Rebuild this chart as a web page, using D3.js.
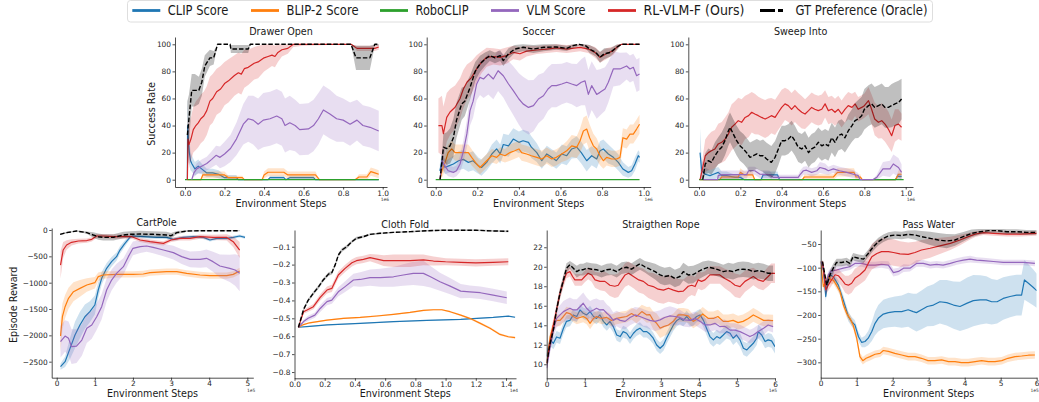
<!DOCTYPE html>
<html><head><meta charset="utf-8">
<script src="https://cdn.jsdelivr.net/npm/d3@7"></script>
<style>
body{margin:0;background:#fff;}
svg{font-family:"DejaVu Sans",sans-serif;}
</style></head><body>
<svg id="chart" width="1039" height="402"></svg>
<script>
// ---- legend ----
const seriesNames = ["CLIP Score","BLIP-2 Score","RoboCLIP","VLM Score","RL-VLM-F (Ours)","GT Preference (Oracle)"];
const seriesColors = ["#1f77b4","#ff7f0e","#2ca02c","#9467bd","#d62728","#000000"];

// ---- tick labels ----
const successTicksX = [0,0.2,0.4,0.6,0.8,1.0];
const successTicksY = [0,20,40,60,80,100];
const cartTicksX = [0,1,2,3,4,5];
const cartTicksY = [0,-500,-1000,-1500,-2000,-2500];
const clothTicksX = [0,0.2,0.4,0.6,0.8,1.0,1.2,1.4];
const clothTicksY = [-0.1,-0.2,-0.3,-0.4,-0.5,-0.6,-0.7,-0.8];
const ropeTicksX = [0,1,2,3,4,5,6];
const ropeTicksY = [10,12,14,16,18,20,22];
const waterTicksX = [0,1,2,3,4,5,6];
const waterTicksY = [-50,-100,-150,-200,-250,-300];

// ---- series: [step, mean, spread] ----
// Drawer Open (steps x1e6, success rate %)
const drawerClip = [[0.012,0,0],[0.013,40,20],[0.018,28,15],[0.022,20,10],[0.028,14,7],[0.034,12,6],[0.05,8,5],[0.067,10,5],[0.084,8,4],[0.11,5,3],[0.14,5,3],[0.17,4,3],[0.2,1.5,2],[0.26,1.5,2],[0.27,0,0],[0.42,0,0],[0.43,1.5,1.5],[0.5,1.5,1.5],[0.51,0,0],[0.53,1.5,1.5],[0.65,1.5,1.5],[0.66,0,0],[0.98,0,0]];
const drawerBlip = [[0.012,0,0],[0.08,0,0],[0.09,3.5,2.5],[0.2,3.5,2.5],[0.22,1.5,1.5],[0.29,1.5,1.5],[0.3,0,0],[0.39,0,0],[0.4,3.5,2.5],[0.42,5.5,3],[0.5,5.5,3],[0.52,3.5,2.5],[0.66,3.5,2.5],[0.68,0,0],[0.86,0,0],[0.88,2,2],[0.92,2,2],[0.94,6,3],[0.96,5,3],[0.98,4,3]];
const drawerRobo = [[0,0,0],[0.98,0,0]];
const drawerVlm = [[0.034,0,0],[0.045,5,3],[0.059,8,4],[0.084,10,5],[0.11,12,5],[0.135,15,6],[0.157,18,7],[0.177,16.5,8],[0.2,19,9],[0.23,23,10],[0.26,30,12],[0.295,41,15],[0.32,45,17],[0.345,44,18],[0.37,41,19],[0.396,44,20],[0.43,45,20],[0.464,47,20],[0.49,45,20],[0.506,40,20],[0.53,42,20],[0.557,40,19],[0.58,37,19],[0.624,37.5,19],[0.65,40,19],[0.675,45,19],[0.7,51.5,18],[0.733,48.5,18],[0.767,45,17],[0.8,44,16],[0.835,41,16],[0.87,44,15],[0.9,40,15],[0.936,38.7,15],[0.98,36,15]];
const drawerRl = [[0.012,0,0],[0.015,30,15],[0.02,26,15],[0.03,30,16],[0.042,37,17],[0.055,40,18],[0.067,42,18],[0.08,45,18],[0.095,47,18],[0.11,51,18],[0.126,58,18],[0.14,60,18],[0.16,65,17],[0.18,67,17],[0.2,71,16],[0.22,73,16],[0.25,77,15],[0.27,79,15],[0.285,78,15],[0.3,82,14],[0.32,83,13],[0.35,86,12],[0.37,87,12],[0.4,90,10],[0.42,91,9],[0.44,92,8],[0.455,91,8],[0.47,94,7],[0.49,96,5],[0.52,97,4],[0.548,100,2],[0.6,100,1],[0.84,100,0],[0.87,97,2],[0.96,97,2],[0.98,98,2]];
const drawerGt = [[0.012,33,25],[0.02,45,18],[0.034,66,12],[0.05,66,12],[0.07,66,10],[0.085,72,10],[0.1,84,8],[0.126,90,6],[0.145,90,5],[0.165,100,0],[0.228,100,0],[0.232,96.5,3],[0.32,96.5,3],[0.33,100,0],[0.84,100,0],[0.865,90,9],[0.935,90,9],[0.96,100,1],[0.98,100,1]];

// Soccer
const soccerClip = [[0.02,6.6,5],[0.03,14,6],[0.045,9,5],[0.06,10,5],[0.085,11.6,6],[0.11,14,7],[0.133,15,7],[0.157,12.8,7],[0.18,14,7],[0.205,10.3,6],[0.22,9,6],[0.245,12.8,6],[0.27,19,7],[0.293,22.7,7],[0.31,19,7],[0.325,26,8],[0.35,25,8],[0.373,30,8],[0.4,27.6,8],[0.42,28.8,8],[0.446,27.6,8],[0.46,24,8],[0.486,20,7],[0.51,14,6],[0.534,19,6],[0.558,16.5,6],[0.58,14,6],[0.606,19,7],[0.63,17.7,7],[0.654,22.7,7],[0.678,24,8],[0.7,20,8],[0.726,14,8],[0.75,17.7,7],[0.774,15.3,7],[0.79,21.4,7],[0.806,22.7,7],[0.83,19,7],[0.854,16.5,6],[0.878,12.8,6],[0.9,7.9,5],[0.926,5.4,4],[0.942,6.6,4],[0.958,11.6,5],[0.974,17.7,4],[0.98,16.5,4]];
const soccerBlip = [[0.02,0,0],[0.03,6.6,5],[0.045,12.8,6],[0.06,20,6],[0.077,22.7,6],[0.093,20,6],[0.117,20,6],[0.14,20,6],[0.157,20,6],[0.173,16.5,6],[0.197,11.6,5],[0.213,9,5],[0.23,11.6,5],[0.245,14,5],[0.27,17.7,5],[0.293,16.5,5],[0.31,19,5],[0.333,17.7,5],[0.357,20,6],[0.38,21.4,6],[0.4,22.7,6],[0.413,20,6],[0.437,19,6],[0.46,17.7,6],[0.486,16.5,6],[0.51,15.3,6],[0.534,17.7,6],[0.558,15.3,6],[0.58,16.5,6],[0.606,19,6],[0.63,21.4,7],[0.654,25,8],[0.678,24,8],[0.694,28.8,9],[0.71,36,10],[0.726,37.4,10],[0.74,31,10],[0.758,25,9],[0.774,22.7,8],[0.79,17.7,7],[0.806,14,6],[0.822,16.5,6],[0.846,15.3,6],[0.87,15.3,6],[0.886,16.5,6],[0.9,31,7],[0.918,30,7],[0.934,33.7,7],[0.95,33.7,7],[0.966,37.4,7],[0.98,41,7]];
const soccerRobo = [[0,0,0],[0.98,0,0]];
const soccerVlm = [[0.021,0,0],[0.03,14,5],[0.045,10,5],[0.06,6.6,4],[0.085,5.4,4],[0.1,6.6,4],[0.117,11.6,6],[0.133,21,8],[0.15,34,10],[0.165,51,11],[0.18,58,12],[0.197,70.7,12],[0.213,75.6,13],[0.23,74.4,14],[0.253,78,15],[0.277,74.4,15],[0.3,80.5,15],[0.325,76.8,16],[0.35,70.7,17],[0.373,65.8,18],[0.4,59.6,19],[0.42,56,20],[0.446,53.4,20],[0.47,54.7,19],[0.494,59.6,18],[0.518,62,17],[0.54,67,16],[0.558,69.5,16],[0.58,69.5,16],[0.606,70.7,15],[0.63,72,15],[0.654,70.7,15],[0.678,69.5,16],[0.7,72,17],[0.718,73,18],[0.734,63,18],[0.75,69.5,18],[0.774,63,18],[0.79,64.5,17],[0.814,67,16],[0.83,72,15],[0.854,81.8,13],[0.886,81.8,12],[0.918,84,10],[0.934,81.8,10],[0.95,83,10],[0.966,76.8,12],[0.98,78,12]];
const soccerRl = [[0.013,40,20],[0.03,40,22],[0.037,34,20],[0.053,46,18],[0.069,50,17],[0.093,53.5,16],[0.117,60,15],[0.133,67,14],[0.15,72,13],[0.173,75.6,12],[0.197,82,10],[0.22,86.7,8],[0.245,90.4,7],[0.277,91,6],[0.31,90.4,6],[0.34,91.6,6],[0.373,94,5],[0.405,93,5],[0.437,95,4],[0.486,95.8,3],[0.534,96.5,3],[0.58,97.3,3],[0.63,96.5,3],[0.694,97.8,3],[0.734,96.5,3],[0.766,94,4],[0.79,90.4,4],[0.82,93,4],[0.854,95.3,3],[0.878,98.8,2],[0.894,100,0],[0.98,100,0]];
const soccerGt = [[0.021,0,0],[0.037,24,10],[0.053,23,12],[0.069,25,13],[0.085,31,14],[0.1,44,13],[0.125,56,12],[0.14,58,11],[0.165,68,9],[0.19,80,7],[0.213,85.5,6],[0.237,89,5],[0.26,91.6,4],[0.285,90,4],[0.31,91.6,4],[0.325,88,4],[0.35,93,4],[0.38,96.5,3],[0.42,97.8,3],[0.47,96.5,3],[0.52,97.8,3],[0.58,98,2],[0.63,97,2],[0.66,99,2],[0.69,100,1],[0.72,99,2],[0.74,96.5,3],[0.77,94,3],[0.79,90.4,4],[0.81,93,4],[0.84,94,3],[0.87,97.8,2],[0.894,100,0],[0.98,100,0]];

// Sweep Into
const sweepClip = [[0.005,20,18],[0.013,6.6,8],[0.03,4,5],[0.053,3,4],[0.07,4,4],[0.093,5.4,4],[0.11,3,3],[0.134,3,3],[0.174,1.7,2],[0.2,1.7,2],[0.22,0,0],[0.3,0,0],[0.31,3.5,2.5],[0.38,3.5,2.5],[0.39,0,0],[0.95,0,0],[0.96,2.5,2],[0.98,2.5,2]];
const sweepBlip = [[0.005,0,0],[0.1,0,0],[0.11,2,2],[0.19,2,2],[0.2,5.4,3],[0.22,3.5,2.5],[0.26,3.5,2.5],[0.27,0,0],[0.5,0,0],[0.51,2,2],[0.65,2,2],[0.67,5.4,3],[0.75,5.4,3],[0.76,2,2],[0.78,2,2],[0.79,0,0],[0.95,0,0],[0.965,4,3],[0.98,4,3]];
const sweepRobo = [[0,0,0],[0.99,0,0]];
const sweepVlm = [[0.02,0,0],[0.09,0,0],[0.093,3,3],[0.11,3.7,3],[0.23,3.7,3],[0.24,6.6,3],[0.27,6.6,3],[0.295,4,3],[0.34,3.7,3],[0.36,1.7,2],[0.48,1.7,2],[0.49,4,3],[0.505,6.6,3],[0.52,7,3],[0.545,5.4,3],[0.57,6.6,3],[0.585,9,4],[0.61,8,4],[0.626,6.6,3],[0.65,8,3],[0.68,6.6,3],[0.715,5.4,3],[0.747,4,3],[0.77,3,2],[0.78,0,0],[0.84,0,0],[0.86,1.7,2],[0.89,8,5],[0.924,8,6],[0.94,11.6,7],[0.965,9,7],[0.98,5.4,6]];
const sweepRl = [[0.005,0,0],[0.018,9,8],[0.03,17.7,12],[0.045,20,13],[0.06,21.4,14],[0.077,22.7,14],[0.093,26.4,15],[0.11,27.6,15],[0.126,30,16],[0.142,33.7,16],[0.158,38.7,17],[0.174,41,17],[0.19,43.6,17],[0.206,42.4,17],[0.223,46,16],[0.24,47.3,16],[0.255,49.8,15],[0.27,48.5,15],[0.287,47.3,14],[0.303,46,14],[0.32,44.8,14],[0.335,46,14],[0.35,47.3,13],[0.368,46,13],[0.384,49.8,13],[0.4,53.4,13],[0.416,56,12],[0.432,54.7,12],[0.448,52,12],[0.464,54.7,12],[0.48,52,12],[0.497,49.8,12],[0.513,48.5,11],[0.53,51,11],[0.545,53.4,11],[0.56,52,11],[0.577,51,11],[0.594,52,11],[0.61,56,10],[0.626,51,10],[0.642,52,10],[0.658,49.8,10],[0.674,52,10],[0.69,48.5,10],[0.706,52,10],[0.722,54.7,10],[0.74,53.4,10],[0.755,56,9],[0.77,52,9],[0.787,53.4,9],[0.8,54.7,9],[0.82,58.4,10],[0.835,52,11],[0.85,44.8,12],[0.868,42.4,12],[0.884,43.6,13],[0.9,41,13],[0.916,37.4,13],[0.932,32.5,12],[0.948,40,12],[0.965,41,11],[0.98,38.7,10]];
const sweepGt = [[0.018,0,0],[0.03,11.6,8],[0.045,14,9],[0.06,12.8,9],[0.077,17.7,10],[0.093,21.4,10],[0.11,24,11],[0.126,29,11],[0.142,36,11],[0.15,38.7,11],[0.166,33.7,11],[0.182,28.8,11],[0.198,25,11],[0.215,22.7,11],[0.23,20,11],[0.247,16.5,11],[0.263,17.7,11],[0.28,19,11],[0.295,17.7,11],[0.31,17.7,12],[0.327,15.3,12],[0.35,12.8,12],[0.368,16.5,12],[0.384,22.7,12],[0.4,28.8,11],[0.416,28.8,11],[0.432,30,11],[0.448,32.5,11],[0.464,28.8,11],[0.48,24,11],[0.497,22.7,11],[0.513,25,11],[0.53,20,11],[0.545,22.7,11],[0.56,24,11],[0.577,27.6,11],[0.594,25,11],[0.61,26.4,11],[0.626,25,11],[0.642,31,11],[0.658,27.6,11],[0.674,32.5,11],[0.69,33.7,11],[0.706,31,11],[0.722,36,12],[0.74,40,12],[0.755,43.6,13],[0.77,44.8,14],[0.787,47.3,14],[0.8,52,15],[0.82,54.7,15],[0.835,56,15],[0.85,53.4,15],[0.868,54.7,15],[0.884,56,15],[0.9,53.4,15],[0.916,53.4,15],[0.932,54.7,16],[0.948,56,16],[0.965,57,16],[0.98,59.6,15]];

// CartPole (steps x1e5, episode reward)
const cartClip = [[0.1,-2595,60],[0.22,-2500,100],[0.35,-2247,200],[0.48,-1994,250],[0.61,-1804,250],[0.74,-1646,230],[0.87,-1551,200],[1.0,-1424,180],[1.09,-1139,150],[1.18,-918,120],[1.31,-728,100],[1.44,-601,90],[1.57,-506,80],[1.66,-380,70],[1.79,-253,60],[1.92,-139,40],[2.0,-114,30],[2.27,-127,30],[2.62,-139,30],[2.88,-139,30],[3.06,-177,30],[3.32,-139,30],[3.58,-127,30],[3.85,-139,30],[4.02,-190,30],[4.2,-158,30],[4.46,-158,30],[4.63,-139,30],[4.8,-114,30],[4.94,-139,25]];
const cartBlip = [[0.1,-2013,300],[0.15,-1646,250],[0.22,-1456,220],[0.31,-1297,200],[0.44,-1171,180],[0.61,-1108,160],[0.79,-1044,130],[1.0,-1000,110],[1.09,-886,80],[1.22,-854,70],[1.57,-842,60],[2.0,-842,60],[2.27,-835,60],[2.45,-810,60],[2.88,-791,60],[3.15,-791,60],[3.41,-823,60],[3.76,-854,60],[4.02,-867,60],[4.46,-867,60],[4.63,-842,60],[4.8,-778,60]];
const cartVlm = [[0.1,-2120,300],[0.22,-2013,300],[0.31,-2057,320],[0.39,-2215,330],[0.52,-2203,320],[0.66,-2089,300],[0.79,-1867,280],[0.92,-1804,260],[1.05,-1646,250],[1.18,-1456,240],[1.31,-1139,220],[1.44,-950,200],[1.57,-823,180],[1.75,-696,160],[1.88,-506,140],[2.0,-348,130],[2.19,-316,120],[2.36,-304,110],[2.53,-329,110],[2.8,-380,120],[3.06,-430,130],[3.28,-506,140],[3.5,-557,150],[3.76,-557,160],[3.93,-538,170],[4.1,-601,190],[4.28,-684,220],[4.54,-728,260],[4.68,-760,300],[4.8,-823,340]];
const cartRl = [[0.1,-665,260],[0.17,-380,150],[0.26,-285,90],[0.39,-234,60],[0.57,-209,45],[0.79,-200,40],[0.92,-177,40],[1.05,-114,40],[1.22,-114,40],[1.49,-127,40],[1.75,-127,40],[1.97,-127,40],[2.19,-190,40],[2.45,-222,40],[2.8,-253,40],[3.0,-190,40],[3.23,-158,40],[3.5,-158,40],[3.76,-127,40],[4.1,-140,50],[4.46,-140,60],[4.63,-222,100],[4.8,-380,150]];
const cartGt = [[0.09,-82,15],[0.26,-50,15],[0.52,-20,10],[0.79,-50,20],[0.96,-95,50],[1.09,-127,60],[1.22,-140,60],[1.49,-140,60],[1.75,-95,60],[1.92,-82,60],[2.19,-76,60],[2.53,-82,60],[2.88,-95,60],[3.0,-108,50],[3.15,-50,30],[3.41,-20,15],[3.76,-13,10],[4.2,-13,10],[4.8,-13,10]];

// Cloth Fold (steps x1e4)
const clothClip = [[0.026,-0.55,0.003],[0.1,-0.545,0.003],[0.215,-0.537,0.003],[0.435,-0.528,0.003],[0.655,-0.519,0.003],[0.875,-0.512,0.003],[1.1,-0.506,0.003],[1.315,-0.495,0.003],[1.415,-0.488,0.003],[1.46,-0.494,0.003]];
const clothBlip = [[0.026,-0.55,0.003],[0.06,-0.535,0.004],[0.1,-0.525,0.004],[0.215,-0.51,0.004],[0.324,-0.5,0.004],[0.435,-0.495,0.004],[0.545,-0.487,0.004],[0.655,-0.478,0.004],[0.765,-0.467,0.004],[0.853,-0.456,0.004],[0.92,-0.452,0.004],[0.975,-0.452,0.004],[1.03,-0.463,0.004],[1.1,-0.482,0.005],[1.16,-0.5,0.005],[1.23,-0.528,0.006],[1.294,-0.555,0.006],[1.36,-0.59,0.006],[1.415,-0.603,0.006],[1.46,-0.608,0.006]];
const clothVlm = [[0.026,-0.55,0.005],[0.06,-0.518,0.01],[0.09,-0.5,0.015],[0.135,-0.482,0.015],[0.17,-0.445,0.02],[0.215,-0.407,0.02],[0.247,-0.398,0.02],[0.29,-0.352,0.025],[0.335,-0.323,0.03],[0.39,-0.286,0.035],[0.435,-0.283,0.04],[0.5,-0.273,0.045],[0.567,-0.273,0.05],[0.655,-0.268,0.055],[0.72,-0.258,0.06],[0.786,-0.249,0.065],[0.853,-0.249,0.07],[0.9,-0.268,0.06],[0.963,-0.296,0.05],[1.03,-0.32,0.045],[1.1,-0.348,0.04],[1.16,-0.352,0.035],[1.23,-0.357,0.035],[1.315,-0.37,0.035],[1.405,-0.385,0.035]];
const clothRl = [[0.026,-0.55,0.005],[0.06,-0.463,0.01],[0.08,-0.455,0.012],[0.125,-0.435,0.015],[0.17,-0.383,0.018],[0.215,-0.342,0.02],[0.247,-0.333,0.02],[0.29,-0.258,0.02],[0.335,-0.221,0.02],[0.38,-0.19,0.02],[0.41,-0.178,0.02],[0.456,-0.171,0.02],[0.5,-0.161,0.02],[0.545,-0.169,0.025],[0.59,-0.178,0.03],[0.655,-0.178,0.035],[0.765,-0.178,0.035],[0.853,-0.174,0.03],[0.92,-0.18,0.025],[1.0,-0.184,0.02],[1.1,-0.187,0.02],[1.2,-0.19,0.02],[1.315,-0.187,0.02],[1.415,-0.184,0.02]];
const clothGt = [[0.026,-0.55,0.005],[0.06,-0.45,0.008],[0.09,-0.4,0.01],[0.125,-0.36,0.01],[0.16,-0.323,0.01],[0.19,-0.286,0.01],[0.225,-0.253,0.01],[0.247,-0.245,0.01],[0.27,-0.2,0.01],[0.29,-0.147,0.01],[0.313,-0.119,0.01],[0.346,-0.1,0.01],[0.38,-0.072,0.008],[0.41,-0.053,0.008],[0.456,-0.044,0.006],[0.5,-0.031,0.005],[0.567,-0.025,0.005],[0.655,-0.02,0.004],[0.765,-0.016,0.004],[0.875,-0.011,0.004],[0.985,-0.008,0.004],[1.1,-0.008,0.004],[1.2,-0.008,0.004],[1.315,-0.012,0.005],[1.415,-0.014,0.005]];

// Straighten Rope (steps x1e5)
const ropeClip = [[0,10.8,0.5],[0.09,12.5,0.6],[0.175,12.15,0.6],[0.26,12.8,0.6],[0.35,12.67,0.6],[0.44,13.7,0.6],[0.52,14.4,0.6],[0.61,14.5,0.6],[0.7,15.06,0.6],[0.79,14.9,0.6],[0.875,15.57,0.6],[0.96,15.23,0.6],[1.05,15.06,0.6],[1.14,15.4,0.6],[1.23,14.9,0.6],[1.31,14.7,0.6],[1.4,15.06,0.6],[1.49,14.4,0.6],[1.58,14.03,0.6],[1.66,14.4,0.6],[1.75,13.86,0.6],[1.84,13.0,0.6],[1.93,12.84,0.6],[2.01,13.35,0.6],[2.1,13.18,0.6],[2.19,12.67,0.6],[2.28,13.18,0.6],[2.36,13.5,0.6],[2.45,13.7,0.6],[2.54,13.35,0.6],[2.63,13.35,0.6],[2.71,13.1,0.6],[2.8,12.67,0.6],[2.89,11.98,0.6],[2.98,11.64,0.6],[3.07,11.98,0.6],[3.15,12.67,0.6],[3.24,13.35,0.6],[3.33,14.03,0.6],[3.42,14.5,0.6],[3.5,14.7,0.6],[3.59,14.5,0.6],[3.68,14.9,0.6],[3.76,14.5,0.6],[3.85,14.55,0.6],[3.94,14.9,0.6],[4.03,15.06,0.6],[4.12,14.5,0.7],[4.2,13.7,0.7],[4.29,12.84,0.7],[4.38,12.5,0.7],[4.47,12.84,0.7],[4.55,12.67,0.7],[4.64,13.0,0.7],[4.73,13.35,0.7],[4.82,13.18,0.7],[4.9,12.67,0.7],[4.99,13.0,0.7],[5.08,12.5,0.7],[5.17,11.64,0.7],[5.26,11.47,0.7],[5.34,11.8,0.7],[5.43,12.15,0.7],[5.52,12.67,0.7],[5.56,13.35,0.7],[5.65,13.0,0.7],[5.74,12.33,0.7],[5.82,12.5,0.7],[5.91,12.4,0.7],[6.0,11.8,0.7]];
const ropeBlip = [[0,10.1,0.3],[0.09,12.8,0.5],[0.175,14.0,0.6],[0.26,14.5,0.6],[0.35,14.5,0.6],[0.44,14.9,0.6],[0.52,15.3,0.6],[0.61,15.2,0.6],[0.7,14.9,0.6],[0.79,14.7,0.6],[0.875,14.8,0.6],[0.96,14.9,0.6],[1.05,14.7,0.6],[1.14,14.2,0.6],[1.23,14.7,0.6],[1.31,14.9,0.6],[1.44,14.7,0.6],[1.58,14.8,0.6],[1.7,14.5,0.6],[1.84,14.7,0.6],[1.97,14.8,0.6],[2.1,14.9,0.6],[2.23,15.2,0.6],[2.36,14.9,0.7],[2.5,15.4,0.7],[2.63,15.06,0.8],[2.71,15.1,0.8],[2.8,14.5,0.9],[2.89,14.2,1.0],[2.98,13.7,1.0],[3.07,13.86,1.0],[3.2,14.03,0.9],[3.33,14.4,0.8],[3.46,15.06,0.7],[3.59,15.06,0.7],[3.72,14.96,0.7],[3.85,14.4,0.7],[3.98,14.7,0.7],[4.1,15.16,0.7],[4.25,14.7,0.7],[4.38,14.7,0.7],[4.5,14.9,0.7],[4.64,14.4,0.7],[4.77,14.4,0.7],[4.9,14.5,0.7],[5.03,14.27,0.7],[5.16,14.4,0.7],[5.3,14.7,0.7],[5.43,15.06,0.7],[5.56,14.8,0.7],[5.7,14.5,0.6],[5.82,14.5,0.6],[5.95,14.48,0.6]];
const ropeVlm = [[0,9.6,0.3],[0.09,11.8,0.6],[0.175,13.5,0.8],[0.26,14.7,0.9],[0.35,15.06,1.0],[0.44,15.4,1.1],[0.52,15.57,1.1],[0.61,15.74,1.1],[0.7,15.57,1.1],[0.79,15.57,1.1],[0.875,15.9,1.1],[0.96,16.26,1.1],[1.05,15.74,1.1],[1.14,15.4,1.1],[1.23,15.57,1.1],[1.31,15.74,1.0],[1.4,15.57,1.0],[1.49,15.6,1.0],[1.58,15.23,0.9],[1.66,14.96,0.9],[1.75,14.5,0.8],[1.84,14.7,0.8],[1.93,14.5,0.8],[2.06,14.4,0.8],[2.19,14.8,0.8],[2.32,15.06,0.8],[2.45,14.9,0.9],[2.58,14.7,0.9],[2.71,14.5,0.9],[2.85,14.4,1.0],[2.98,14.55,1.0],[3.1,14.8,1.0],[3.24,14.96,1.0],[3.37,14.9,0.9],[3.5,14.8,0.8],[3.63,14.55,0.7],[3.76,14.5,0.7],[3.9,14.7,0.7],[4.03,14.4,0.7],[4.16,14.03,0.7],[4.29,14.03,0.7],[4.42,14.2,0.7],[4.55,13.86,0.7],[4.68,13.9,0.7],[4.82,13.5,0.7],[4.95,13.5,0.7],[5.08,13.35,0.7],[5.21,13.1,0.7],[5.34,12.84,0.7],[5.43,13.0,0.7],[5.56,13.35,0.7],[5.7,13.7,0.7],[5.82,14.03,0.6],[5.95,13.86,0.6]];
const ropeRl = [[0,10.1,0.3],[0.09,12.3,0.5],[0.175,14.0,0.6],[0.26,15.6,0.6],[0.35,17.3,0.6],[0.44,18.5,0.6],[0.52,19.33,0.5],[0.61,19.5,0.5],[0.68,19.0,0.5],[0.74,18.65,0.6],[0.83,18.65,0.6],[0.92,18.65,0.6],[1.0,19.0,0.6],[1.09,19.33,0.6],[1.18,19.16,0.7],[1.27,18.65,0.8],[1.4,18.5,0.9],[1.53,18.5,1.0],[1.66,18.1,1.1],[1.79,18.0,1.2],[1.88,18.1,1.2],[1.97,18.65,1.2],[2.06,19.16,1.2],[2.15,19.33,1.2],[2.28,19.0,1.2],[2.42,18.65,1.3],[2.54,18.5,1.3],[2.67,18.1,1.3],[2.8,17.97,1.4],[2.93,17.7,1.4],[3.07,17.6,1.4],[3.2,17.8,1.4],[3.33,17.6,1.3],[3.46,17.45,1.3],[3.59,17.5,1.2],[3.72,18.0,1.1],[3.81,18.1,1.0],[3.9,17.97,1.0],[3.98,18.65,0.9],[4.07,18.5,0.9],[4.16,18.65,0.9],[4.29,19.16,0.9],[4.42,19.16,0.9],[4.55,19.16,0.9],[4.68,18.8,1.0],[4.82,18.5,1.1],[4.95,18.1,1.2],[5.08,17.97,1.2],[5.21,18.5,1.1],[5.34,18.8,1.0],[5.43,19.0,0.9],[5.56,18.65,0.9],[5.69,18.5,0.9],[5.82,19.0,1.0],[5.9,19.33,1.0],[6.0,19.33,1.0]];
const ropeGt = [[0,10.1,0.3],[0.09,12.15,0.5],[0.175,13.5,0.5],[0.26,15.6,0.5],[0.35,17.3,0.5],[0.44,18.65,0.5],[0.52,19.85,0.5],[0.61,20.2,0.4],[0.7,19.85,0.5],[0.79,19.5,0.6],[0.875,19.7,0.6],[0.96,19.7,0.6],[1.05,19.85,0.6],[1.18,19.75,0.6],[1.31,19.7,0.6],[1.44,19.5,0.6],[1.58,19.7,0.6],[1.7,19.75,0.6],[1.84,19.5,0.6],[1.97,19.85,0.6],[2.1,19.95,0.6],[2.23,19.75,0.6],[2.36,20.1,0.6],[2.45,20.3,0.6],[2.58,20.0,0.6],[2.71,19.75,0.7],[2.85,19.5,0.8],[2.98,19.16,0.9],[3.1,19.0,0.9],[3.24,19.1,0.9],[3.37,18.8,0.9],[3.5,19.0,0.9],[3.59,19.5,0.9],[3.72,19.16,0.9],[3.85,19.2,0.9],[3.98,19.5,0.8],[4.1,19.75,0.8],[4.25,19.95,0.7],[4.38,19.85,0.7],[4.5,19.7,0.7],[4.64,19.5,0.7],[4.77,19.6,0.8],[4.9,19.5,0.8],[5.03,19.7,0.8],[5.16,19.75,0.8],[5.3,19.7,0.8],[5.43,19.5,0.8],[5.56,19.6,0.8],[5.7,19.5,0.8],[5.82,19.33,0.8],[5.95,19.33,0.8]];

// Pass Water (steps x1e5)
const waterClip = [[0.0,-87,3],[0.074,-105,6],[0.14,-161,10],[0.21,-122.5,10],[0.26,-115,10],[0.35,-119,10],[0.49,-137,10],[0.63,-169,10],[0.77,-203.5,10],[0.86,-214,10],[0.95,-221,10],[1.05,-246,10],[1.14,-258,10],[1.23,-256,12],[1.32,-249,15],[1.42,-235,20],[1.51,-217.6,25],[1.6,-207,28],[1.74,-198,30],[1.88,-195,31],[2.06,-193,32],[2.25,-193,34],[2.43,-189,36],[2.57,-193,38],[2.66,-195,40],[2.8,-189,41],[2.96,-182,42],[3.13,-179,44],[3.31,-172,46],[3.5,-174,48],[3.69,-179,50],[3.87,-182,52],[4.07,-175,54],[4.24,-169.7,54],[4.43,-168,52],[4.6,-168,50],[4.75,-172,48],[4.9,-172,46],[5.07,-165,45],[5.26,-161,44],[5.44,-158,43],[5.58,-158,43],[5.66,-126,42],[5.77,-133,40],[5.9,-141.5,38],[6.0,-148.6,36]];
const waterBlip = [[0.0,-87,3],[0.074,-140,8],[0.14,-130,8],[0.21,-119,8],[0.28,-126,8],[0.35,-126,8],[0.44,-137,8],[0.54,-151,8],[0.63,-179,8],[0.72,-196.5,8],[0.81,-207,8],[0.9,-221,8],[1.0,-249,8],[1.09,-288,8],[1.17,-296.5,8],[1.26,-291.5,8],[1.37,-288,8],[1.51,-283,8],[1.65,-281,8],[1.74,-275,8],[1.88,-277,8],[2.06,-281,8],[2.25,-284.5,8],[2.43,-288,8],[2.62,-288,8],[2.8,-291.5,8],[2.98,-296.5,8],[3.17,-296.5,8],[3.36,-295,8],[3.55,-298.6,8],[3.73,-298.6,8],[3.91,-300.7,8],[4.1,-300.7,8],[4.29,-298.6,8],[4.47,-296.5,8],[4.66,-298.6,8],[4.84,-298.6,8],[5.03,-296.5,8],[5.2,-291.5,8],[5.4,-288,8],[5.58,-286.7,8],[5.77,-285,8],[5.95,-284.5,8]];
const waterVlm = [[0.0,-87,3],[0.074,-101,6],[0.14,-137,8],[0.21,-115,8],[0.3,-107,8],[0.44,-105,8],[0.63,-101,7],[0.81,-98,7],[0.95,-91,7],[1.14,-91,7],[1.32,-94.6,7],[1.51,-94.6,7],[1.69,-93,7],[1.88,-94.6,8],[2.02,-110.5,8],[2.16,-108,8],[2.3,-101,8],[2.48,-101,7],[2.66,-91,7],[2.85,-91,7],[3.04,-94.6,7],[3.22,-93,7],[3.4,-94.6,7],[3.6,-91,7],[3.78,-87,7],[3.96,-84,7],[4.15,-82,7],[4.33,-84,6],[4.52,-85,6],[4.8,-87,6],[5.07,-89,6],[5.35,-89,6],[5.63,-89,6],[5.95,-91,6]];
const waterRl = [[0.05,-87,5],[0.14,-147,10],[0.21,-137,12],[0.3,-126,12],[0.4,-115,12],[0.49,-117,14],[0.58,-125,15],[0.68,-135,18],[0.77,-137,20],[0.86,-133,20],[0.95,-122.5,20],[1.09,-115,20],[1.23,-105,22],[1.32,-91,25],[1.42,-77,27],[1.56,-70,28],[1.69,-66,28],[1.88,-66,28],[2.02,-68,28],[2.2,-71,27],[2.43,-72,25],[2.62,-68,23],[2.8,-62.7,21],[3.04,-59,20],[3.31,-54,17],[3.6,-48.6,14],[3.87,-41.5,11],[4.1,-34.5,8],[4.29,-29,6],[4.52,-26,5],[4.8,-27.5,5],[5.17,-29,5],[5.54,-29,5],[6.0,-27.5,5]];
const waterGt = [[0.05,-87,5],[0.167,-137,10],[0.26,-115,10],[0.35,-101,10],[0.44,-89,8],[0.58,-89,8],[0.72,-87,8],[0.81,-91,8],[0.9,-77,8],[1.05,-80,8],[1.19,-82,8],[1.32,-70,8],[1.46,-56,8],[1.6,-45,8],[1.74,-38,8],[1.88,-33,8],[2.06,-31,8],[2.25,-32,8],[2.43,-29.6,8],[2.62,-31,10],[2.8,-34.5,12],[3.04,-38,14],[3.27,-41.5,15],[3.5,-43.7,15],[3.73,-41.5,12],[3.96,-34.5,10],[4.19,-27.5,8],[4.43,-24,6],[4.66,-21.8,5],[4.89,-21.8,5],[5.17,-24,5],[5.44,-24,5],[5.72,-25.4,5],[6.0,-25.4,5]];

// ---- panel layout ----
const fmt1 = d3.format(".1f"), fmtInt = d3.format("d");
const panels = [
  {title:"Drawer Open", series:[drawerClip,drawerBlip,drawerRobo,drawerVlm,drawerRl,drawerGt], box:[175,37,387,187], xDom:[-0.0506,1.0218], yDom:[-5.4,105.4], xt:successTicksX, yt:successTicksY, xf:fmt1, yf:fmtInt, off:"1e6", ylabel:"Success Rate", clamp:[0,100]},
  {title:"Soccer", series:[soccerClip,soccerBlip,soccerRobo,soccerVlm,soccerRl,soccerGt], box:[426.7,37,650.7,187], xDom:[-0.0433,1.0337], yDom:[-5.4,105.4], xt:successTicksX, yt:successTicksY, xf:fmt1, yf:fmtInt, off:"1e6", clamp:[0,100]},
  {title:"Sweep Into", series:[sweepClip,sweepBlip,sweepRobo,sweepVlm,sweepRl,sweepGt], box:[688.3,37,913,187], xDom:[-0.0518,1.0353], yDom:[-5.4,105.4], xt:successTicksX, yt:successTicksY, xf:fmt1, yf:fmtInt, off:"1e6", clamp:[0,100]},
  {title:"CartPole", series:[cartClip,cartBlip,null,cartVlm,cartRl,cartGt], box:[51.7,228,253.3,377.7], xDom:[-0.131,5.157], yDom:[-2804,38], xt:cartTicksX, yt:cartTicksY, xf:fmtInt, yf:fmtInt, off:"1e5", ylabel:"Episode Reward", titleDx:4},
  {title:"Cloth Fold", series:[clothClip,clothBlip,null,clothVlm,clothRl,clothGt], box:[294.5,230,516,378.3], xDom:[0,1.466], yDom:[-0.835,-0.0067], xt:clothTicksX, yt:clothTicksY, xf:fmt1, yf:fmt1, off:"1e4"},
  {title:"Straigthen Rope", series:[ropeClip,ropeBlip,null,ropeVlm,ropeRl,ropeGt], box:[546.7,230,775,378.3], xDom:[0,6], yDom:[8.56,23.77], xt:ropeTicksX, yt:ropeTicksY, xf:fmtInt, yf:fmtInt, off:"1e5"},
  {title:"Pass Water", series:[waterClip,waterBlip,null,waterVlm,waterRl,waterGt], box:[820.7,230,1036.7,377.7], xDom:[0,6], yDom:[-332.5,-20.4], xt:waterTicksX, yt:waterTicksY, xf:fmtInt, yf:fmtInt, off:"1e5"}
];

const svg = d3.select("#chart");

panels.forEach((p, pi) => {
  const [L, T, R, B] = p.box;
  const x = d3.scaleLinear().domain(p.xDom).range([L, R]);
  const y = d3.scaleLinear().domain(p.yDom).range([B, T]);
  const clampV = p.clamp ? (v => Math.max(p.clamp[0], Math.min(p.clamp[1], v))) : (v => v);
  const g = svg.append("g");

  g.append("clipPath").attr("id", "clip" + pi)
    .append("rect").attr("x", L).attr("y", T - 1).attr("width", R - L).attr("height", B - T + 1);
  const plot = g.append("g").attr("clip-path", `url(#clip${pi})`);

  const area = d3.area()
    .x(d => x(d[0]))
    .y0(d => y(clampV(d[1] - d[2])))
    .y1(d => y(clampV(d[1] + d[2])));
  const line = d3.line().x(d => x(d[0])).y(d => y(d[1]));

  p.series.forEach((s, si) => {
    if (!s) return;
    const c = seriesColors[si];
    plot.append("path").datum(s).attr("d", area)
      .attr("fill", c).attr("fill-opacity", si === 5 ? 0.25 : 0.22).attr("stroke", "none");
    const ln = plot.append("path").datum(s).attr("d", line)
      .attr("fill", "none").attr("stroke", c)
      .attr("stroke-width", si === 5 ? 1.4 : 1.2)
      .attr("stroke-linejoin", "round");
    if (si === 5) ln.attr("stroke-dasharray", "4.5,2");
  });

  // axes
  const ax = g.append("g").attr("transform", `translate(0,${B})`)
    .call(d3.axisBottom(x).tickValues(p.xt).tickFormat(p.xf).tickSize(2.5).tickSizeOuter(0).tickPadding(1));
  const ay = g.append("g").attr("transform", `translate(${L},0)`)
    .call(d3.axisLeft(y).tickValues(p.yt).tickFormat(p.yf).tickSize(2.5).tickSizeOuter(0).tickPadding(1.5));
  [ax, ay].forEach(a => {
    a.select(".domain").attr("stroke", "#222").attr("stroke-width", 0.8);
    a.selectAll(".tick line").attr("stroke", "#222").attr("stroke-width", 0.8);
    a.selectAll(".tick text").attr("font-size", 7.4).attr("fill", "#262626")
      .attr("font-family", "DejaVu Sans");
  });

  // title, axis label, exponent note
  g.append("text").attr("x", (L + R) / 2 + (p.titleDx || 0)).attr("y", T - 2.5)
    .attr("text-anchor", "middle").attr("font-size", 9.6).attr("fill", "#1a1a1a").text(p.title);
  g.append("text").attr("x", (L + R) / 2).attr("y", pi < 3 ? 206.5 : 396.5)
    .attr("text-anchor", "middle").attr("font-size", 9.6).attr("fill", "#1a1a1a").text("Environment Steps");
  g.append("text").attr("x", R + 2).attr("y", B + 14)
    .attr("text-anchor", "end").attr("font-size", 4.4).attr("fill", "#333").text(p.off);
  if (p.ylabel) {
    const lx = pi === 0 ? 151.7 : 13.3;
    const ly = (T + B) / 2 + 2;
    g.append("text").attr("transform", `translate(${lx},${ly}) rotate(-90)`)
      .attr("text-anchor", "middle").attr("dominant-baseline", "central")
      .attr("font-size", 9.6).attr("fill", "#1a1a1a").text(p.ylabel);
  }
});

// ---- legend ----
const legendX = [132.3, 251, 380, 491, 608, 760];
const legendTextW = [60.6, 72, 53, 59, 101, 132];
const leg = svg.append("g");
leg.append("rect").attr("x", 127.5).attr("y", 0.5).attr("width", 805).attr("height", 21.5)
  .attr("rx", 3).attr("fill", "#fff").attr("stroke", "#d5d5d5").attr("stroke-width", 0.8);
seriesNames.forEach((name, i) => {
  const lx = legendX[i];
  const l = leg.append("line").attr("x1", lx).attr("x2", lx + 28).attr("y1", 10.5).attr("y2", 10.5)
    .attr("stroke", seriesColors[i]).attr("stroke-width", 2.8);
  if (i === 5) l.attr("stroke-dasharray", "15,3,5,20");
  leg.append("text").attr("x", lx + 35.5).attr("y", 15.3)
    .attr("font-size", 13.5).attr("fill", "#1a1a1a")
    .attr("textLength", legendTextW[i]).attr("lengthAdjust", "spacingAndGlyphs")
    .text(name);
});
</script>
</body></html>
